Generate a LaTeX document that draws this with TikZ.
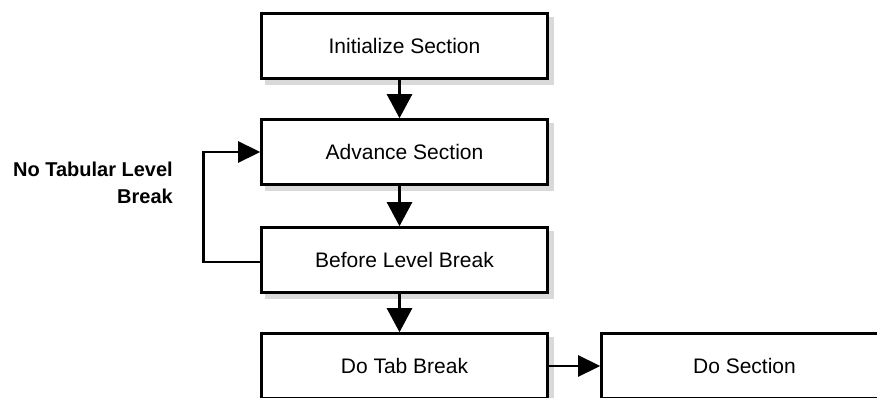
\documentclass[tikz,border=0pt]{standalone}
\usepackage{fontspec}
\setmainfont{Liberation Sans}
\usetikzlibrary{arrows.meta,backgrounds}
\begin{document}
\begin{tikzpicture}[x=1pt,y=-1pt,
  stepbox/.style={draw=black, line width=2.6pt, fill=white,
    minimum width=286pt, minimum height=65pt, inner sep=0pt,
    font=\fontsize{21}{24}\selectfont},
  shadowfill/.style={fill=black!15},
  conn/.style={line width=2.6pt, -{Triangle[length=24pt,width=25pt]}},
  connh/.style={line width=2.6pt, -{Triangle[length=22pt,width=21pt]}},
  lbl/.style={font=\bfseries\fontsize{20}{27}\selectfont, align=right, inner sep=0pt}]
\useasboundingbox (0,0) rectangle (877,398);
\node[stepbox] (b1) at (404.5,46) {Initialize Section};
\node[stepbox] (b2) at (404.5,152) {Advance Section};
\node[stepbox] (b3) at (404.5,260) {Before Level Break};
\node[stepbox] (b4) at (404.5,366) {Do Tab Break};
\node[stepbox] (b5) at (744.5,366) {Do Section};
\node[lbl, anchor=east] (lab) at (173,183) {No Tabular Level\\Break};
\draw[conn] ([xshift=-5pt]b1.south) -- ([xshift=-5pt]b2.north);
\draw[conn] ([xshift=-5pt]b2.south) -- ([xshift=-5pt]b3.north);
\draw[conn] ([xshift=-5pt]b3.south) -- ([xshift=-5pt]b4.north);
\draw[connh] (b4.east) -- (b5.west);
\draw[connh] ([yshift=-2pt]b3.west) -- ++(-57,0) |- (b2.west);
\begin{scope}[on background layer]
  \fill[white] (0,0) rectangle (877,398);
  \foreach \b in {b1,b2,b3,b4,b5}
    \fill[shadowfill] ([xshift=5pt,yshift=-5pt]\b.south west) rectangle ([xshift=5pt,yshift=-5pt]\b.north east);
\end{scope}
\end{tikzpicture}
\end{document}
